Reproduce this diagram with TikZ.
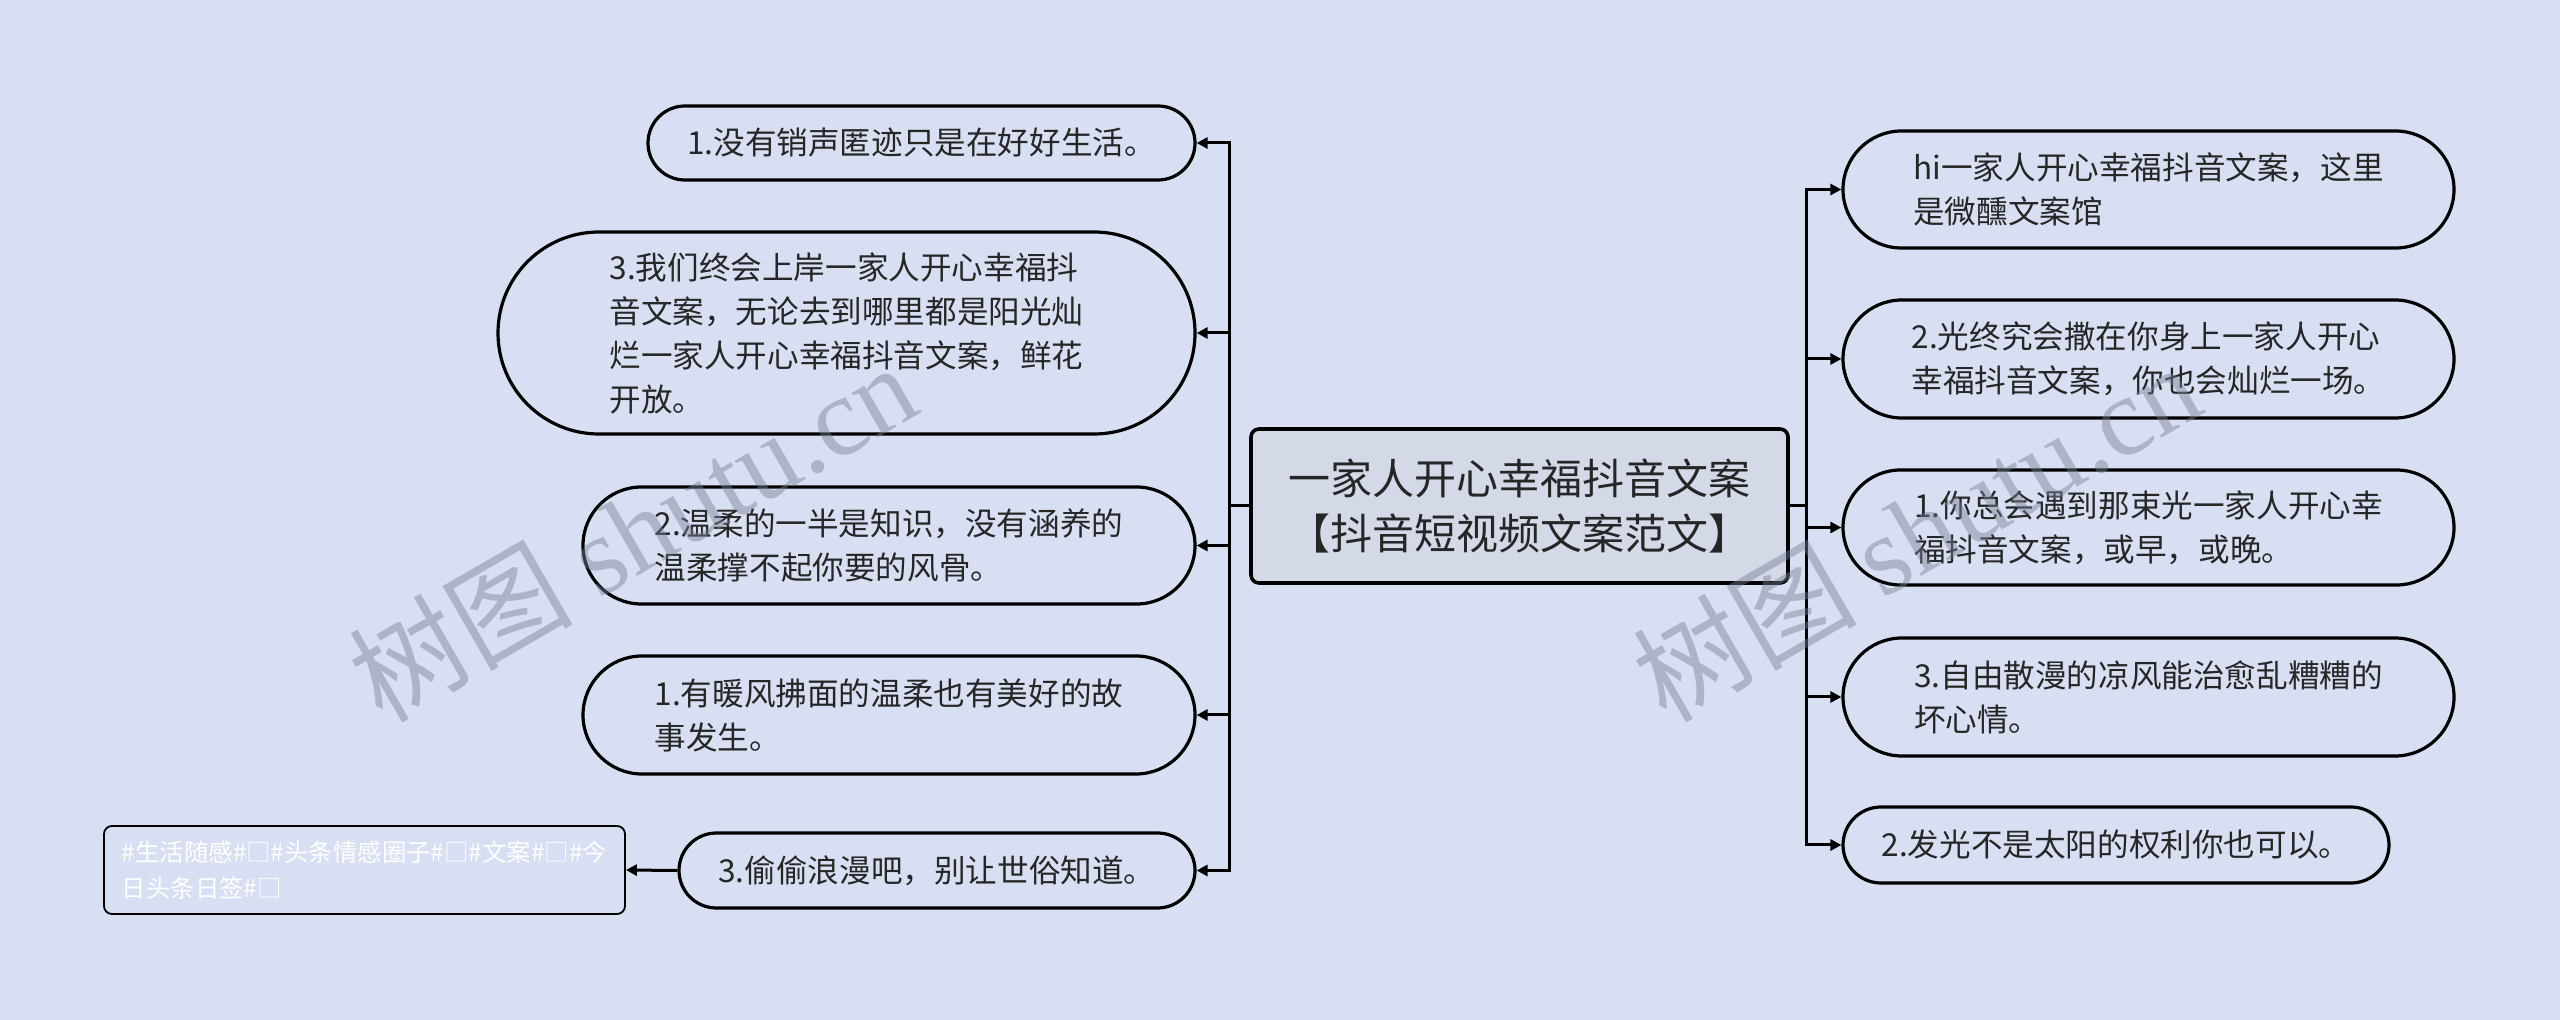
\documentclass[tikz,border=0pt]{standalone}
\usepackage{fontspec}
\setmainfont{Noto Sans CJK SC}
\newfontfamily\wmlatin{Liberation Serif}
\usetikzlibrary{arrows.meta}
\definecolor{bgc}{RGB}{217,223,242}
\definecolor{cfill}{RGB}{211,217,230}
\definecolor{txt}{RGB}{38,38,38}
\definecolor{wmc}{RGB}{120,128,150}
\begin{document}
\begin{tikzpicture}[x=0.5pt,y=-0.5pt,
  leaf/.style={draw=black, line width=1.6pt, fill=bgc, rounded corners=#1, text=txt,
    font=\fontsize{15.8pt}{22pt}\selectfont, align=left, inner sep=0pt},
  root/.style={draw=black, line width=1.8pt, fill=cfill, rounded corners=4pt, text=txt,
    font=\fontsize{21pt}{27.5pt}\selectfont, align=center, inner sep=0pt,
    minimum width=268.5pt, minimum height=77pt},
  tagbox/.style={draw=black, line width=0.9pt, fill=bgc, rounded corners=4pt, text=white,
    font=\fontsize{12.2pt}{18pt}\selectfont, align=left, inner sep=0pt,
    minimum width=260.5pt, minimum height=44pt},
  conn/.style={draw=black, line width=1.5pt, -{Triangle[length=5.5pt,width=5.5pt]}},
  wmark/.style={text=wmc, text opacity=0.45, font=\fontsize{56pt}{56pt}\selectfont, inner sep=0pt}
]
\fill[bgc] (0,0) rectangle (2560,1020);
\useasboundingbox (0,0) rectangle (2560,1020);

% root
\node[root] (C) at (1519.5,506) {一家人开心幸福抖音文案\\【抖音短视频文案范文】};

% left leaves
\node[leaf=18.5pt, minimum width=273.5pt, minimum height=37pt] (L1) at (921.5,143)
  {1.没有销声匿迹只是在好好生活。};
\node[leaf=50.5pt, minimum width=348.5pt, minimum height=101pt] (L2) at (846.5,333)
  {3.我们终会上岸一家人开心幸福抖\\音文案，无论去到哪里都是阳光灿\\烂一家人开心幸福抖音文案，鲜花\\开放。};
\node[leaf=29.25pt, minimum width=306pt, minimum height=58.5pt] (L3) at (889,545.5)
  {2.温柔的一半是知识，没有涵养的\\温柔撑不起你要的风骨。};
\node[leaf=29.5pt, minimum width=306pt, minimum height=59pt] (L4) at (889,715)
  {1.有暖风拂面的温柔也有美好的故\\事发生。};
\node[leaf=18.75pt, minimum width=258pt, minimum height=37.5pt] (L5) at (937,870.5)
  {3.偷偷浪漫吧，别让世俗知道。};
\node[tagbox] (T) at (364.5,870)
  {\#生活随感\#□\#头条情感圈子\#□\#文案\#□\#今\\日头条日签\#□};

% right leaves
\node[leaf=29.25pt, minimum width=305.5pt, minimum height=58.5pt] (R1) at (2148.5,189.5)
  {hi一家人开心幸福抖音文案，这里\\是微醺文案馆};
\node[leaf=29.5pt, minimum width=305.5pt, minimum height=59pt] (R2) at (2148.5,359)
  {2.光终究会撒在你身上一家人开心\\幸福抖音文案，你也会灿烂一场。};
\node[leaf=28.75pt, minimum width=305.5pt, minimum height=57.5pt] (R3) at (2148.5,527.5)
  {1.你总会遇到那束光一家人开心幸\\福抖音文案，或早，或晚。};
\node[leaf=29.5pt, minimum width=305.5pt, minimum height=59pt] (R4) at (2148.5,697)
  {3.自由散漫的凉风能治愈乱糟糟的\\坏心情。};
\node[leaf=19pt, minimum width=273pt, minimum height=38pt] (R5) at (2116,845)
  {2.发光不是太阳的权利你也可以。};

% trunks
\coordinate (tl) at (1229,506);
\coordinate (tr) at (1806,506);

\foreach \n in {L1,L2,L3,L4,L5}
  \draw[conn] (C.west) -- (tl) |- (\n.east);
\foreach \n in {R1,R2,R3,R4,R5}
  \draw[conn] (C.east) -- (tr) |- (\n.west);
\draw[conn] (L5.west) -- (T.east);

% watermarks (on top, translucent)
\node[wmark, rotate=30] (wm1) at (632,531) {树图 {\wmlatin shutu.cn}};
\node[wmark, rotate=30] (wm2) at (1916,531) {树图 {\wmlatin shutu.cn}};
\end{tikzpicture}
\end{document}
